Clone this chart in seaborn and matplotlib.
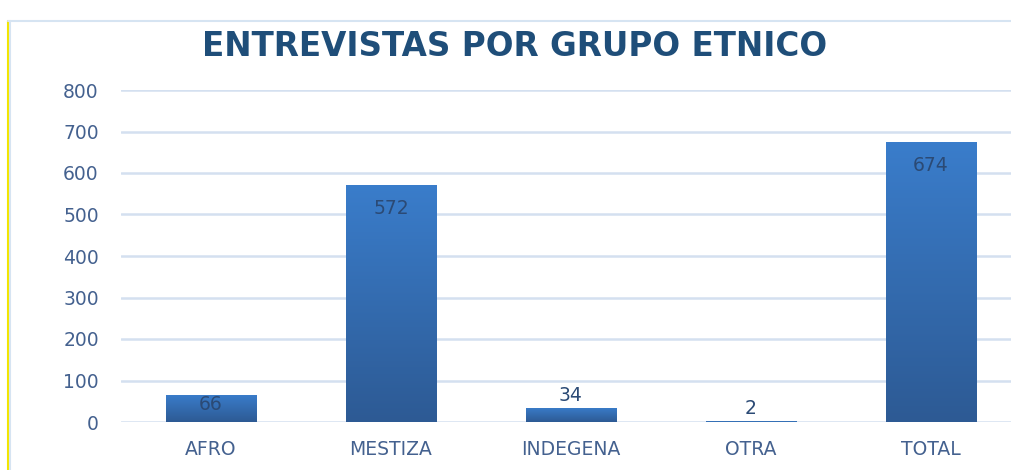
import numpy as np
import pandas as pd
import matplotlib
matplotlib.use("Agg")
import matplotlib.pyplot as plt
import seaborn as sns
from matplotlib.colors import LinearSegmentedColormap

categories = ["AFRO", "MESTIZA", "INDEGENA", "OTRA", "TOTAL"]
values = [66, 572, 34, 2, 674]
yticks = [0, 100, 200, 300, 400, 500, 600, 700, 800]
title = "ENTREVISTAS POR GRUPO ETNICO"

df = pd.DataFrame({"grupo": categories, "n": values})

sns.set_theme(style="white")
plt.rcParams['font.family'] = ['DejaVu Sans']

W, H = 1012, 470
fig = plt.figure(figsize=(W / 100, H / 100), dpi=100)
ax = fig.add_axes([121 / W, (H - 422) / H, (1012 - 121) / W, (422 - 90) / H])

sns.barplot(data=df, x="grupo", y="n", ax=ax, color="#3570b8", width=0.505,
            saturation=1, zorder=3)

ax.set_xlim(-0.5, 4.45)
ax.set_ylim(0, 800)
ax.set_yticks(yticks)
ax.set_yticklabels([str(t) for t in yticks])
ax.grid(axis="y", color="#d4e0f0", linewidth=1.8, zorder=0)
ax.set_axisbelow(True)
for s in ax.spines.values():
    s.set_visible(False)
ax.set_xlabel("")
ax.set_ylabel("")
ax.tick_params(axis="y", colors="#44618f", labelsize=13.5, length=0, pad=16)
ax.tick_params(axis="x", colors="#44618f", labelsize=13.5, length=0, pad=13)

# gradient fill on bars
cmap = LinearSegmentedColormap.from_list("g", ["#2d5a94", "#3a7dcb"])
grad = np.linspace(0, 1, 256).reshape(-1, 1)
for p in ax.patches:
    x0, y0 = p.get_x(), p.get_y()
    w, h = p.get_width(), p.get_height()
    im = ax.imshow(grad, cmap=cmap, aspect="auto", origin="lower",
                   extent=[x0, x0 + w, y0, y0 + h], zorder=4)
    im.set_clip_path(p)
    p.set_linewidth(0)

# data labels
for i, v in enumerate(values):
    if v >= 200:
        ax.annotate(str(v), (i, v), xytext=(0, -10), textcoords="offset points",
                    ha="center", va="top", color="#2b4a75", fontsize=13.5, zorder=6)
    elif v >= 60:
        ax.annotate(str(v), (i, v), xytext=(0, 0), textcoords="offset points",
                    ha="center", va="top", color="#2b4a75", fontsize=13.5, zorder=6)
    else:
        ax.annotate(str(v), (i, v), xytext=(0, 2), textcoords="offset points",
                    ha="center", va="bottom", color="#2b4a75", fontsize=13.5, zorder=6)

fig.text(515 / W, 1 - 46 / H, title, ha="center", va="center",
         fontsize=23.5, fontweight="bold", color="#1f4e79")

# page decorations
fig.add_artist(plt.Line2D([8 / W, 8 / W], [0, 1 - 21 / H], color="#f2e600", linewidth=1.5))
fig.add_artist(plt.Line2D([10 / W, 10 / W], [0, 1 - 21 / H], color="#d6e4f2", linewidth=1.5))
fig.add_artist(plt.Line2D([8 / W, 1], [1 - 21 / H, 1 - 21 / H], color="#d6e4f2", linewidth=1.5))

fig.savefig("out.png", dpi=100)
